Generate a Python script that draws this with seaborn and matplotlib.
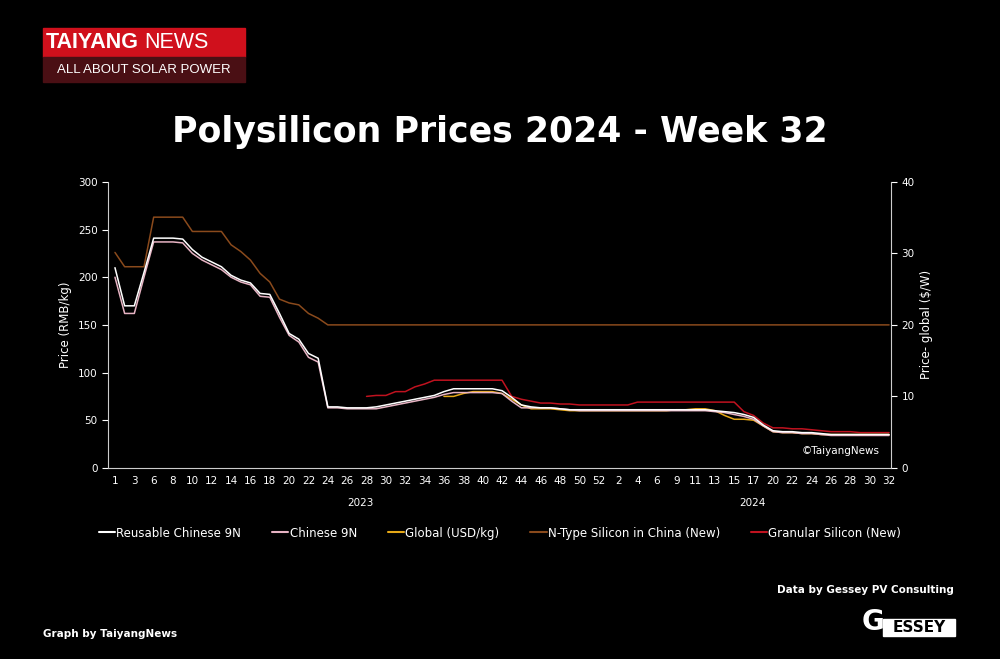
import matplotlib
matplotlib.use("Agg")
import matplotlib.pyplot as plt
import matplotlib.patches as mpatches
from matplotlib.lines import Line2D
import seaborn as sns
import numpy as np
import pandas as pd

sns.set_theme(style="dark")
plt.rcParams['font.family'] = ['DejaVu Sans']

N = np.nan
tick_labels = ["1","3","6","8","10","12","14","16","18","20","22","24","26","28","30","32","34","36","38","40","42","44","46","48","50","52",
               "2","4","6","9","11","13","15","17","20","22","24","26","28","30","32"]

reusable = [210,170,170,205,241,241,241,240,229,221,216,211,202,197,194,183,182,162,141,135,120,115,64,64,63,63,63,64,66,68,70,72,74,76,80,83,83,83,83,83,81,74,66,64,63,63,62,61,61,61,61,61,61,61,61,61,61,61,61,61,61,61,60,59,58,56,53,45,39,38,38,37,37,36,35,35,35,35,35,35,35]
chinese9n = [200,162,162,200,237,237,237,236,225,218,213,208,200,195,192,180,179,158,139,132,116,111,63,63,62,62,62,62,64,66,68,70,72,74,77,79,79,79,79,79,78,70,63,63,63,63,62,61,60,60,60,60,60,60,60,60,60,60,60,60,60,60,59,58,56,54,51,44,38,37,37,36,36,35,34,34,34,34,34,34,34]
global_usd = [N]*34 + [75,75,78,80,80,80,78,72,66,62,62,62,61,60,60,60,60,60,60,60,60,60,60,60,61,61,62,62,60,55,51,51,50,44,38,37,37,36,36,35,35,35,35,35,35,35,35]
ntype = [226,211,211,211,263,263,263,263,248,248,248,248,234,227,218,204,195,177,173,171,162,157] + [150]*59
granular = [N]*26 + [75,76,76,80,80,85,88,92,92,92,92,92,92,92,92,75,72,70,68,68,67,67,66,66,66,66,66,66,69,69,69,69,69,69,69,69,69,69,69,59,55,47,42,42,41,41,40,39,38,38,38,37,37,37,37]

x = np.arange(len(reusable))
series = [("Reusable Chinese 9N", reusable, "#ffffff"),
          ("Chinese 9N", chinese9n, "#e7b3c3"),
          ("Global (USD/kg)", global_usd, "#e6a817"),
          ("N-Type Silicon in China (New)", ntype, "#8a4a1c"),
          ("Granular Silicon (New)", granular, "#c0121f")]

fig = plt.figure(figsize=(10, 6.59), dpi=100, facecolor="black")
ax = fig.add_axes([0.108, 0.290, 0.783, 0.434])
ax.set_facecolor("black")
draw_order = [3, 4, 2, 1, 0]
for k in draw_order:
    name, vals, col = series[k]
    df = pd.DataFrame({"x": x, "y": vals})
    sns.lineplot(data=df, x="x", y="y", ax=ax, color=col, linewidth=1.1, legend=False)

ax.set_xlim(-0.72, 80.2)
ax.set_ylim(0, 300)
ax.set_yticks([0,50,100,150,200,250,300])
ax.set_xticks(np.arange(0, 81, 2))
ax.set_xticklabels(tick_labels)
ax.tick_params(axis='both', colors="white", labelsize=7.5, length=4, width=0.8, direction='out')
ax.tick_params(axis='x', length=0, pad=6)
ax.set_xlabel("")
ax.set_ylabel("Price (RMB/kg)", color="white", fontsize=8.5)
for s in ["left", "bottom"]:
    ax.spines[s].set_visible(True); ax.spines[s].set_color("#cccccc"); ax.spines[s].set_linewidth(0.8)
for s in ["top", "right"]:
    ax.spines[s].set_visible(False)
ax.grid(False)

ax2 = ax.twinx()
ax2.set_ylim(0, 40)
ax2.set_yticks([0,10,20,30,40])
ax2.tick_params(axis='y', colors="white", labelsize=7.5, length=4, width=0.8)
ax2.set_ylabel("Price- global ($/W)", color="white", fontsize=8.5)
for s in ["left", "bottom", "top"]:
    ax2.spines[s].set_visible(False)
ax2.spines["right"].set_visible(True); ax2.spines["right"].set_color("#cccccc"); ax2.spines["right"].set_linewidth(0.8)
ax2.grid(False)

ax.text(0.985, 0.04, "©TaiyangNews", transform=ax.transAxes, ha="right", va="bottom", color="white", fontsize=7.5)
fig.text(0.36, 0.232, "2023", color="white", fontsize=7.5, ha="center")
fig.text(0.752, 0.232, "2024", color="white", fontsize=7.5, ha="center")

handles = [Line2D([0], [0], color=c, lw=1.5) for _, _, c in series]
fig.legend(handles, [n for n, _, _ in series], loc="center", bbox_to_anchor=(0.5, 0.191), ncol=5,
           frameon=False, fontsize=8.5, labelcolor="white", handlelength=1.4, columnspacing=2.6, handletextpad=0.1)

fig.text(0.5, 0.80, "Polysilicon Prices 2024 - Week 32", color="white", fontsize=25, fontweight="bold", ha="center", va="center")

# logo
fig.patches.append(mpatches.Rectangle((0.043, 1-57/659), 0.202, 29/659, transform=fig.transFigure, color="#d0101c"))
fig.patches.append(mpatches.Rectangle((0.043, 1-82/659), 0.202, 25/659, transform=fig.transFigure, color="#4a0f14"))
fig.text(0.046, 1-43/659, "TAIYANG", color="white", fontsize=15.5, fontweight="bold", va="center", family="Liberation Sans")
fig.text(0.144, 1-43/659, "NEWS", color="white", fontsize=15.5, va="center", family="Liberation Sans")
fig.text(0.144, 1-70/659, "ALL ABOUT SOLAR POWER", color="white", fontsize=9.5, va="center", ha="center", family="Liberation Sans")

fig.text(0.954, 1-590/659, "Data by Gessey PV Consulting", color="white", fontsize=7.5, fontweight="bold", ha="right", va="center")
fig.text(0.043, 1-634/659, "Graph by TaiyangNews", color="white", fontsize=7.5, fontweight="bold", ha="left", va="center")
fig.text(0.862, 1-622/659, "G", color="white", fontsize=20, fontweight="bold", va="center")
fig.patches.append(mpatches.Rectangle((0.883, 1-636/659), 0.072, 17/659, transform=fig.transFigure, color="white"))
fig.text(0.919, 1-628/659, "ESSEY", color="black", fontsize=11, fontweight="bold", ha="center", va="center")

fig.savefig("out.png", dpi=100, facecolor="black")
